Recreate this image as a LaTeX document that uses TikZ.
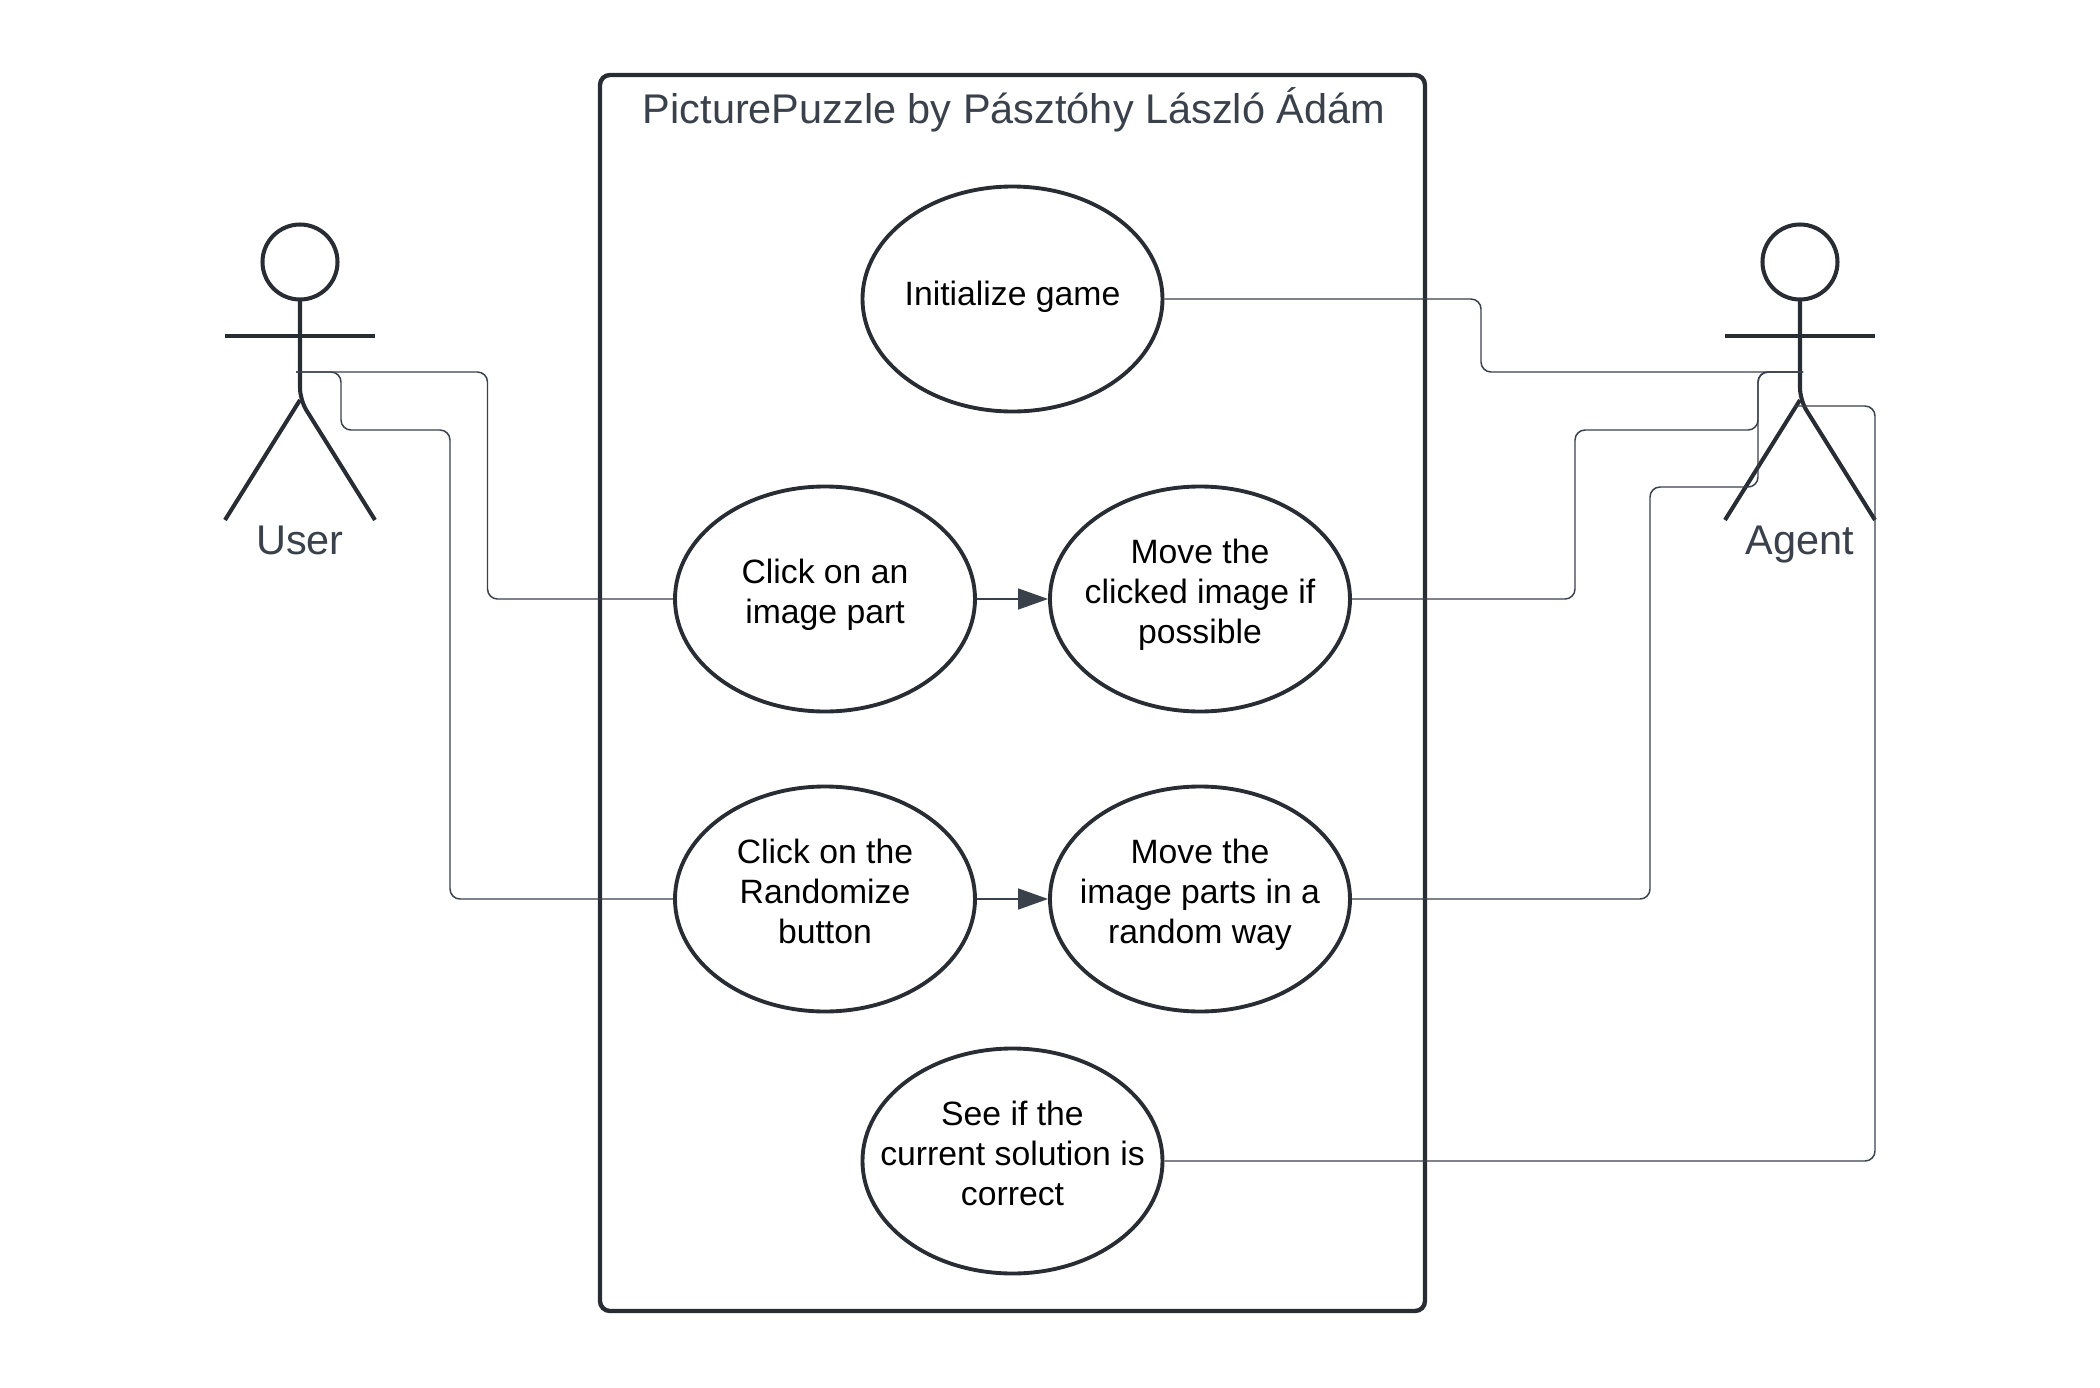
\documentclass[tikz,border=0pt]{standalone}
\usepackage{fontspec}
\setmainfont{Liberation Sans}
\usetikzlibrary{shapes.geometric,arrows.meta}
\definecolor{inkdark}{HTML}{282C33}
\definecolor{inkline}{HTML}{3A414A}
\tikzset{
  usecase/.style={draw=inkdark,line width=1.1pt,ellipse,minimum width=3cm,minimum height=2.25cm,inner sep=-0.6cm,align=center,text=black,font=\fontsize{9.6}{11.38}\selectfont,execute at begin node=\strut,execute at end node=\strut\rule[-0.16cm]{0pt}{0pt}},
  boundary/.style={draw=inkdark,line width=1.25pt,rounded corners=0.1cm,minimum width=8.25cm,minimum height=12.36cm,inner sep=0pt},
  bigtext/.style={inner sep=0pt,text=inkline,font=\fontsize{11.8}{14}\selectfont},
  actorhead/.style={draw=inkdark,line width=1.15pt,circle,minimum size=0.75cm,inner sep=0pt,outer sep=0pt},
  actorline/.style={draw=inkdark,line width=1.15pt},
  conn/.style={draw=inkline,line width=0.42pt,rounded corners=0.1cm},
  flow/.style={draw=inkline,line width=0.42pt,-{Triangle[length=0.3cm,width=0.21cm]}},
}
\begin{document}
\begin{tikzpicture}
    \useasboundingbox (0,0) rectangle (21,-13.88);
    \node[boundary] (puzzle) at (10.125,-6.93) {};
    \node[bigtext,anchor=base] (title) at (10.14,-1.23) {PicturePuzzle by Pásztóhy László Ádám};
    \node[usecase] (init) at (10.125,-2.99) {Initialize game};
    \node[usecase] (click) at (8.25,-5.99) {Click on an\\image part};
    \node[usecase] (moveclick) at (12.0,-5.99) {Move the\\clicked image if\\possible};
    \node[usecase] (rand) at (8.25,-8.99) {Click on the\\Randomize\\button};
    \node[usecase] (moverand) at (12.0,-8.99) {Move the\\image parts in a\\random way};
    \node[usecase] (check) at (10.125,-11.61) {See if the\\current solution is\\correct};
    % actors
    \node[actorhead] (userhead) at (3.0,-2.62) {};
    \coordinate (userhip) at (3.0,-4.0);
    \coordinate (userlegl) at (2.25,-5.2);
    \coordinate (userlegr) at (3.75,-5.2);
    \coordinate (userarml) at (2.25,-3.36);
    \coordinate (userarmr) at (3.75,-3.36);
    \coordinate (userport) at (2.96,-3.72);
    \node[bigtext,anchor=base] (userlabel) at (3.0,-5.54) {User};
    \draw[actorline] (userarml) -- (userarmr);
    \draw[actorline,rounded corners=0.12cm] (userhead.south) -- (userhip) -- (userlegr);
    \draw[actorline] (userhip) -- (userlegl);
    \node[actorhead] (agenthead) at (18.0,-2.62) {};
    \coordinate (agenthip) at (18.0,-4.0);
    \coordinate (agentlegl) at (17.25,-5.2);
    \coordinate (agentlegr) at (18.75,-5.2);
    \coordinate (agentarml) at (17.25,-3.36);
    \coordinate (agentarmr) at (18.75,-3.36);
    \coordinate (agentport) at (18.03,-3.72);
    \coordinate (agentportlow) at (17.94,-4.06);
    \node[bigtext,anchor=base] (agentlabel) at (18.0,-5.54) {Agent};
    \draw[actorline] (agentarml) -- (agentarmr);
    \draw[actorline,rounded corners=0.12cm] (agenthead.south) -- (agenthip) -- (agentlegr);
    \draw[actorline] (agenthip) -- (agentlegl);
    % connectors
    \draw[conn] (userport) -- (4.875,-3.72) -- (4.875,-5.99) -- (click.west);
    \draw[conn] (userport) -- (3.41,-3.72) -- (3.41,-4.3) -- (4.5,-4.3) -- (4.5,-8.99) -- (rand.west);
    \draw[conn] (init.east) -- (14.81,-2.99) -- (14.81,-3.72) -- (agentport);
    \draw[conn] (moveclick.east) -- (15.75,-5.99) -- (15.75,-4.3) -- (17.58,-4.3) -- (17.58,-3.72) -- (agentport);
    \draw[conn] (moverand.east) -- (16.5,-8.99) -- (16.5,-4.87) -- (17.58,-4.87) -- (17.58,-3.72) -- (agentport);
    \draw[conn] (check.east) -- (18.75,-11.61) -- (18.75,-4.06) -- (agentportlow);
    \draw[flow] (click) to (moveclick);
    \draw[flow] (rand) to (moverand);
  \end{tikzpicture}
\end{document}
